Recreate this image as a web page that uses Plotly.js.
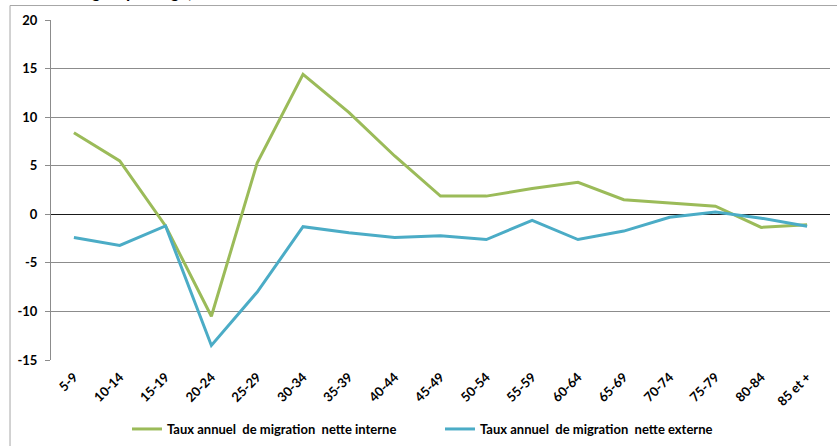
<!DOCTYPE html>
<html>
<head>
<meta charset="utf-8">
<script src="https://cdn.plot.ly/plotly-3.0.1.min.js"></script>
<style>
  html, body { margin: 0; padding: 0; background: #ffffff; }
  #chart { width: 837px; height: 446px; }
</style>
</head>
<body>
<div id="chart"></div>
<script>
// Age groups on the x axis
const groupesAge = ["5-9", "10-14", "15-19", "20-24", "25-29", "30-34", "35-39", "40-44", "45-49",
  "50-54", "55-59", "60-64", "65-69", "70-74", "75-79", "80-84", "85 et +"];

// Annual net internal migration rate
const tauxInterne = [8.4, 5.5, -1.2, -10.5, 5.3, 14.4, 10.5, 6.0, 1.87,
  1.87, 2.65, 3.3, 1.5, 1.2, 0.83, -1.35, -1.08];

// Annual net external migration rate
const tauxExterne = [-2.4, -3.2, -1.2, -13.5, -8.0, -1.28, -1.9, -2.4, -2.2,
  -2.6, -0.62, -2.6, -1.73, -0.3, 0.24, -0.4, -1.24];

const nomsSeries = ["Taux annuel  de migration  nette interne", "Taux annuel  de migration  nette externe"];
const ticksY = [-15, -10, -5, 0, 5, 10, 15, 20];

const police = "Lato, 'Open Sans', sans-serif";

const traces = [
  {
    x: groupesAge, y: tauxInterne, name: nomsSeries[0],
    type: "scatter", mode: "lines",
    line: { color: "#9bbb59", width: 3 }
  },
  {
    x: groupesAge, y: tauxExterne, name: nomsSeries[1],
    type: "scatter", mode: "lines",
    line: { color: "#4bacc6", width: 3 }
  }
];

const layout = {
  width: 837, height: 446,
  margin: { l: 51, r: 7, t: 20, b: 86 },
  paper_bgcolor: "#ffffff",
  plot_bgcolor: "#ffffff",
  font: { family: police, color: "#000000" },
  showlegend: true,
  legend: {
    orientation: "h",
    xref: "container", yref: "container",
    x: 0.1517, xanchor: "left",
    y: 0.0381, yanchor: "middle",
    font: { family: police, size: 13, weight: "bold", color: "#000000" },
    entrywidth: 268,
    itemwidth: 30,
    bgcolor: "rgba(0,0,0,0)"
  },
  xaxis: {
    type: "category",
    range: [-0.5, groupesAge.length - 0.5],
    automargin: false,
    tickangle: -45,
    tickfont: { family: police, size: 13, weight: "bold" },
    ticklabelstandoff: 6,
    showgrid: false,
    showline: false,
    ticks: "",
    zeroline: false
  },
  yaxis: {
    range: [-15, 20],
    automargin: false,
    tickvals: ticksY,
    ticktext: ticksY.map(String),
    tickfont: { family: police, size: 13, weight: "bold" },
    ticklabelstandoff: 5,
    showgrid: true,
    gridcolor: "#8c8c8c",
    gridwidth: 1,
    showline: true,
    linecolor: "#8c8c8c",
    linewidth: 1,
    ticks: "outside",
    ticklen: 5,
    tickcolor: "#8c8c8c",
    zeroline: true,
    zerolinecolor: "#1a1a1a",
    zerolinewidth: 1
  },
  shapes: [
    // chart frame
    {
      type: "rect", xref: "paper", yref: "paper",
      x0: -0.0526, x1: 1.05, y0: -0.4, y1: 1.0426,
      line: { color: "#a6a6a6", width: 1 },
      fillcolor: "rgba(0,0,0,0)",
      layer: "below"
    }
  ],
  annotations: [
    {
      text: "selon le groupe d'âge)",
      xref: "paper", yref: "paper",
      x: -0.0295, xanchor: "left",
      y: 1.048, yanchor: "bottom",
      showarrow: false,
      font: { family: police, size: 17, weight: "bold", color: "#000000" }
    }
  ]
};

Plotly.newPlot("chart", traces, layout, { displayModeBar: false, staticPlot: true });
</script>
</body>
</html>
